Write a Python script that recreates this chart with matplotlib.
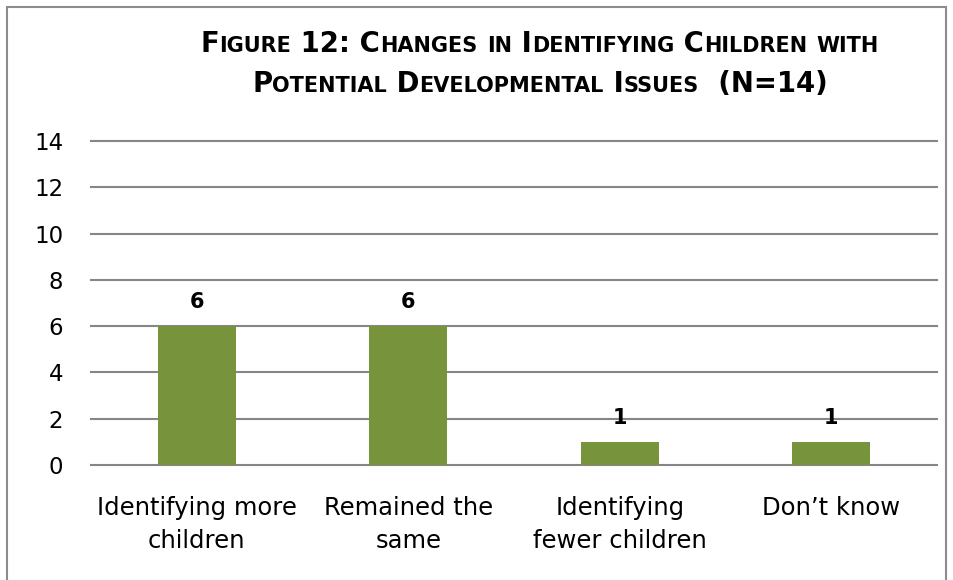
import matplotlib
matplotlib.use('Agg')
import matplotlib.pyplot as plt
from matplotlib.offsetbox import TextArea, HPacker, VPacker, AnchoredOffsetbox
from matplotlib.patches import Rectangle

categories = ['Identifying more\nchildren', 'Remained the\nsame', 'Identifying\nfewer children', 'Don\u2019t know']
counts = [6, 6, 1, 1]
yticks = [0, 2, 4, 6, 8, 10, 12, 14]
title_lines = ['Figure 12: Changes in Identifying Children with',
               'Potential Developmental Issues  (N=14)']

bar_color = '#77933C'
grid_color = '#868686'
font = 'DejaVu Sans'

fig = plt.figure(figsize=(9.54, 5.8), dpi=100)
ax = fig.add_axes([91 / 954, 1 - 465 / 580, 846 / 954, 324 / 580])

ax.bar(range(len(counts)), counts, width=0.37, color=bar_color, zorder=3)
for i, v in enumerate(counts):
    ax.text(i, v + 0.6, str(v), ha='center', va='bottom', fontsize=15,
            fontweight='bold', family=font, color='black')

ax.set_xlim(-0.5, len(counts) - 0.5)
ax.set_ylim(0, 14)
ax.set_yticks(yticks)
ax.set_yticklabels([str(t) for t in yticks], fontsize=16.5, family=font)
ax.set_xticks(range(len(categories)))
ax.set_xticklabels(categories, fontsize=17.5, family=font, linespacing=1.5)
ax.tick_params(axis='both', length=0)
ax.tick_params(axis='y', pad=20)
ax.tick_params(axis='x', pad=22)
for t in yticks:
    ax.axhline(t, color=grid_color, linewidth=1.5, zorder=1, clip_on=False)
for s in ax.spines.values():
    s.set_visible(False)

# figure frame
fig.patches.append(Rectangle((7 / 954, -0.05), 939 / 954, 1 - 7 / 580 + 0.05,
                             transform=fig.transFigure, fill=False,
                             edgecolor='#8c8c8c', linewidth=1.5))


def small_caps(text, big=19.8, small=15):
    # split text into runs of full-size capitals and reduced lowercase
    runs = []
    for ch in text:
        is_small = ch.islower()
        if runs and runs[-1][1] == is_small:
            runs[-1][0] += ch
        else:
            runs.append([ch, is_small])
    boxes = []
    for txt, is_small in runs:
        boxes.append(TextArea(txt.upper(), textprops=dict(
            fontsize=small if is_small else big, fontweight='bold', family=font)))
    return HPacker(children=boxes, align='baseline', pad=0, sep=0)


rows = [small_caps(line) for line in title_lines]
title_box = VPacker(children=rows, align='center', pad=0, sep=8)
anchored = AnchoredOffsetbox(loc='center', child=title_box, frameon=False,
                             bbox_to_anchor=(540 / 954, 1 - 64 / 580),
                             bbox_transform=fig.transFigure, pad=0, borderpad=0)
fig.add_artist(anchored)

fig.savefig('out.png', dpi=100)
